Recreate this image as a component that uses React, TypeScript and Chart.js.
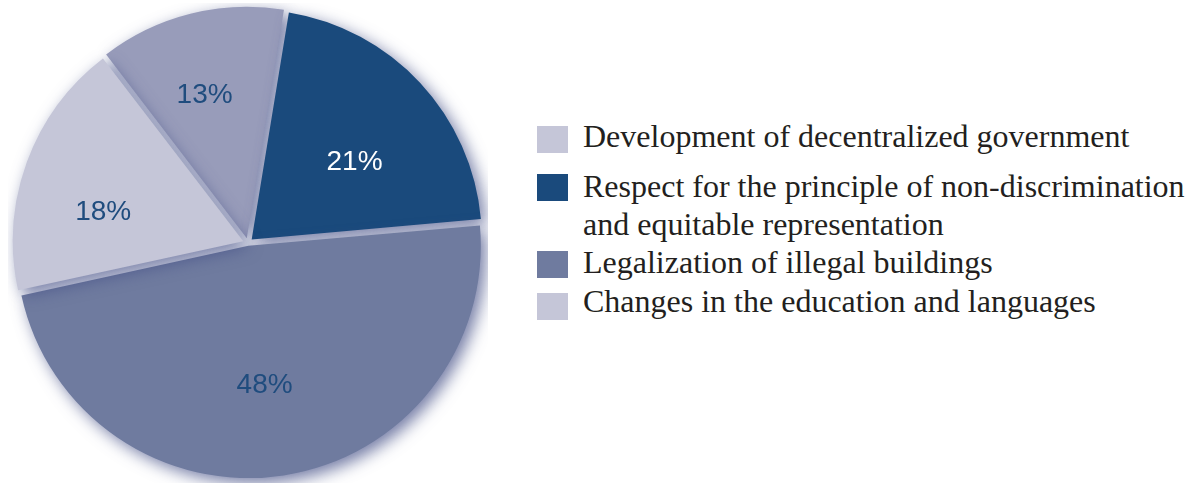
import React, { useEffect, useRef } from "react";
import { Chart, registerables } from "chart.js";

Chart.register(...registerables);

const categories = [
  "Development of decentralized government",
  "Respect for the principle of non-discrimination and equitable representation",
  "Legalization of illegal buildings",
  "Changes in the education and languages",
];
const legendLines = [
  ["Development of decentralized government"],
  ["Respect for the principle of non-discrimination", "and equitable representation"],
  ["Legalization of illegal buildings"],
  ["Changes in the education and languages"],
];
const values = [13, 21, 48, 18];
const valueLabels = ["13%", "21%", "48%", "18%"];
const sliceColors = ["#989cba", "#1a4a7c", "#6f7b9f", "#c5c6d8"];
const legendColors = ["#c5c6d8", "#1a4a7c", "#6f7b9f", "#c5c6d8"];
const labelColors = ["#1f4c7e", "#ffffff", "#1f4c7e", "#1f4c7e"];

// label placement: angular shift from slice middle (deg) and radius fraction
const labelAngleShift = [-2.4, 5.8, 2.1, -8.4];
const labelRadius = [0.64, 0.56, 0.6, 0.62];

const shadowAndLabels = {
  id: "shadowAndLabels",
  beforeDatasetsDraw(chart: any) {
    const ctx = chart.ctx;
    ctx.save();
    ctx.shadowColor = "rgba(70,80,135,0.75)";
    ctx.shadowBlur = 16;
    ctx.shadowOffsetX = 5;
    ctx.shadowOffsetY = 5;
  },
  afterDatasetsDraw(chart: any) {
    const ctx = chart.ctx;
    ctx.restore();
    const meta = chart.getDatasetMeta(0);
    ctx.save();
    ctx.font = "28px 'Liberation Sans', Arial, sans-serif";
    ctx.textAlign = "center";
    ctx.textBaseline = "middle";
    meta.data.forEach((arc: any, i: number) => {
      const { x, y, startAngle, endAngle, outerRadius, circumference } = arc.getProps(
        ["x", "y", "startAngle", "endAngle", "outerRadius", "circumference"],
        true
      );
      const off = (arc.options.offset || 0) / 4;
      const fix = 1 - Math.sin(Math.min(Math.PI, circumference || 0));
      const shift = off + off * fix;
      const mid = (startAngle + endAngle) / 2;
      const vx = x + Math.cos(mid) * shift;
      const vy = y + Math.sin(mid) * shift;
      const a = mid + (labelAngleShift[i] * Math.PI) / 180;
      const r = outerRadius * labelRadius[i];
      ctx.fillStyle = labelColors[i];
      ctx.fillText(valueLabels[i], vx + Math.cos(a) * r, vy + Math.sin(a) * r);
    });
    ctx.restore();
  },
};

export default function App() {
  const canvasRef = useRef<HTMLCanvasElement | null>(null);

  useEffect(() => {
    document.body.style.margin = "0";
    const canvas = canvasRef.current;
    if (!canvas) return;
    const chart = new Chart(canvas, {
      type: "pie",
      data: {
        labels: categories,
        datasets: [
          {
            data: values,
            backgroundColor: sliceColors,
            borderWidth: 0,
            offset: [20, 20, 11, 20],
          },
        ],
      },
      options: {
        animation: false,
        responsive: true,
        maintainAspectRatio: false,
        rotation: -37.5,
        layout: { padding: 0 },
        plugins: {
          legend: { display: false },
          tooltip: { enabled: false },
        },
      },
      plugins: [shadowAndLabels],
    });
    return () => chart.destroy();
  }, []);

  const lineBaselines = [[147], [197], [273], [312]];
  const secondLineBaseline = 235;
  const boxTops = [126, 174, 251, 293];

  return (
    <div style={{ position: "relative", width: 1197, height: 498, background: "#ffffff", overflow: "hidden" }}>
      <div style={{ position: "absolute", left: 8, top: 3, width: 480, height: 480 }}>
        <canvas ref={canvasRef} />
      </div>
      {legendLines.map((lines, i) => (
        <React.Fragment key={i}>
          <div
            style={{
              position: "absolute",
              left: 537,
              top: boxTops[i],
              width: 31,
              height: 27,
              background: legendColors[i],
            }}
          />
          {lines.map((t, j) => (
            <div
              key={j}
              style={{
                position: "absolute",
                left: 583,
                top: (j === 0 ? lineBaselines[i][0] : secondLineBaseline) - 26.8,
                fontFamily: "'Liberation Serif', 'Times New Roman', serif",
                fontSize: 32,
                lineHeight: "32px",
                color: "#231f20",
                whiteSpace: "nowrap",
              }}
            >
              {t}
            </div>
          ))}
        </React.Fragment>
      ))}
    </div>
  );
}
